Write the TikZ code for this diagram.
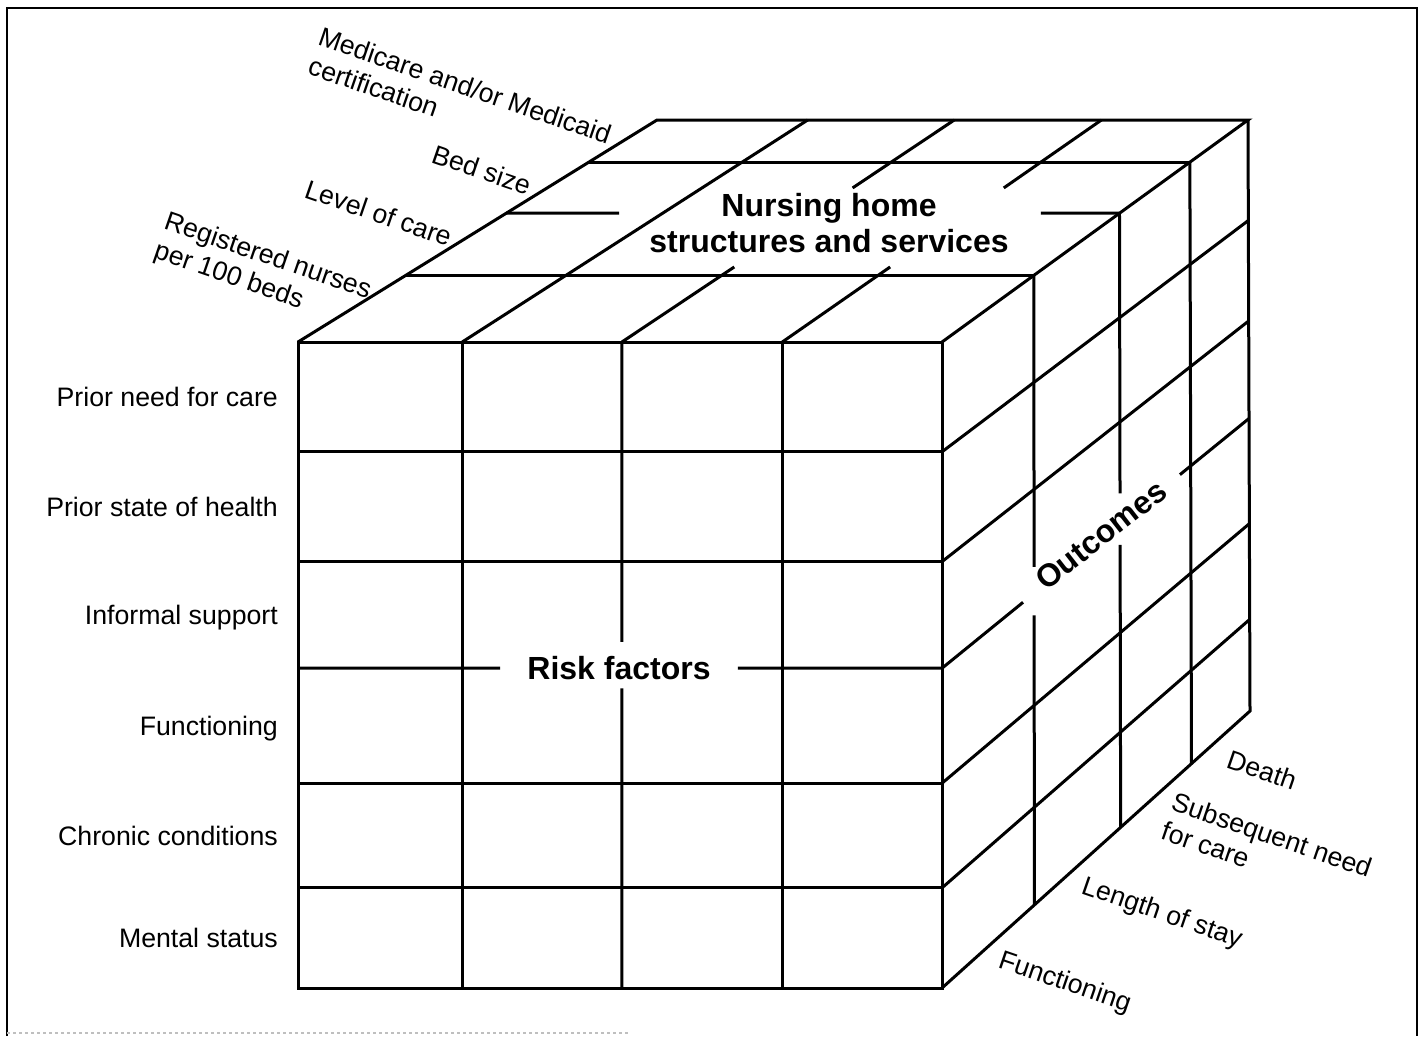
\documentclass[tikz,border=0pt]{standalone}
\usepackage{fontspec}
\setmainfont{Liberation Sans}
\usetikzlibrary{calc}
\tikzset{
  cubeline/.style={line width=3pt},
  frameline/.style={line width=2.6pt},
  rowlabel/.style={anchor=base east,inner sep=0pt,font=\fontsize{26.7}{31}\selectfont},
  slablabel/.style={rotate=-19,inner sep=0pt,align=left,font=\fontsize{26.7}{31}\selectfont},
  facelabel/.style={inner sep=0pt,align=center,font=\fontsize{32}{36}\selectfont\bfseries}
}
\begin{document}
\begin{tikzpicture}[x=1pt,y=-1pt]
  \useasboundingbox (0,0) rectangle (1424,1036);
  % frame round the figure
  \draw[frameline] (7,1036) -- (7,8) -- (1417,8) -- (1417,1036);
  \draw[frameline,gray!50,dashed] (7,1033) -- (630,1033);

  % cube corners: front face, then the back ones
  \coordinate (ftl) at (298,342);
  \coordinate (ftr) at (942,342);
  \coordinate (fbl) at (298,988);
  \coordinate (fbr) at (942,988);
  \coordinate (btl) at (657,120);
  \coordinate (btr) at (1248,120);
  \coordinate (bbr) at (1250,711);

  % front face
  \draw[cubeline] (ftl) rectangle (fbr);
  \foreach \r in {0.17,0.34,0.683,0.845}
    \draw[cubeline] ($(ftl)!\r!(fbl)$) -- ($(ftr)!\r!(fbr)$);
  \foreach \c in {0.255,0.752}
    \draw[cubeline] ($(ftl)!\c!(ftr)$) -- ($(fbl)!\c!(fbr)$);
  \coordinate (riskl) at ($(ftl)!0.505!(fbl)$);
  \coordinate (riskr) at ($(ftr)!0.505!(fbr)$);
  \coordinate (riskt) at ($(ftl)!0.503!(ftr)$);
  \coordinate (riskb) at ($(fbl)!0.503!(fbr)$);
  \draw[cubeline] (riskl) -- ($(riskl)!0.314!(riskr)$) ($(riskl)!0.683!(riskr)$) -- (riskr);
  \draw[cubeline] (riskt) -- ($(riskt)!0.464!(riskb)$) ($(riskt)!0.536!(riskb)$) -- (riskb);

  % top face
  \draw[cubeline] (ftl) -- (btl) -- (btr) -- (ftr);
  \foreach \t in {0.30,0.81}
    \draw[cubeline] ($(ftl)!\t!(btl)$) -- ($(ftr)!\t!(btr)$);
  \coordinate (nhl) at ($(ftl)!0.58!(btl)$);
  \coordinate (nhr) at ($(ftr)!0.58!(btr)$);
  \draw[cubeline] (nhl) -- ($(nhl)!0.184!(nhr)$) ($(nhl)!0.872!(nhr)$) -- (nhr);
  \draw[cubeline] ($(ftl)!0.255!(ftr)$) -- ($(btl)!0.255!(btr)$);
  \foreach \c in {0.503,0.752} {
    \coordinate (cf) at ($(ftl)!\c!(ftr)$);
    \coordinate (cb) at ($(btl)!\c!(btr)$);
    \draw[cubeline] (cf) -- ($(cf)!0.338!(cb)$) ($(cf)!0.694!(cb)$) -- (cb);
  }

  % right face
  \draw[cubeline] (btr) -- (bbr) -- (fbr);
  \draw[cubeline] ($(ftr)!0.81!(btr)$) -- ($(fbr)!0.81!(bbr)$);
  \foreach \t/\ga/\gb in {0.30/0.463/0.540,0.58/0.456/0.540} {
    \coordinate (lt) at ($(ftr)!\t!(btr)$);
    \coordinate (lb) at ($(fbr)!\t!(bbr)$);
    \draw[cubeline] (lt) -- ($(lt)!\ga!(lb)$) ($(lt)!\gb!(lb)$) -- (lb);
  }
  \foreach \r in {0.17,0.34,0.683,0.845}
    \draw[cubeline] ($(ftr)!\r!(fbr)$) -- ($(btr)!\r!(bbr)$);
  \coordinate (outf) at ($(ftr)!0.505!(fbr)$);
  \coordinate (outb) at ($(btr)!0.505!(bbr)$);
  \draw[cubeline] (outf) -- ($(outf)!0.264!(outb)$) ($(outf)!0.775!(outb)$) -- (outb);

  % row names left of the front face
  \foreach \m/\txt [count=\i] in {0.085/Prior need for care,0.255/Prior state of health,0.4225/Informal support,0.594/Functioning,0.764/Chronic conditions,0.9225/Mental status}
    \node[rowlabel,xshift=-20pt,yshift=-9.6pt] (risk\i) at ($(ftl)!\m!(fbl)$) {\txt};

  % slab names along the depth
  \node[slablabel,anchor=north west] (medicare) at (323,26) {Medicare and/or Medicaid\\certification};
  \node[slablabel,anchor=base west] (bedsize) at (430,162) {Bed size};
  \node[slablabel,anchor=base west] (carelevel) at (303,197) {Level of care};
  \node[slablabel,anchor=north west] (nurses) at (169,210) {Registered nurses\\per 100 beds};
  \node[slablabel,anchor=base west] (death) at (1225,767) {Death};
  \node[slablabel,anchor=north west] (needcare) at (1176,791) {Subsequent need\\for care};
  \node[slablabel,anchor=base west] (stay) at (1080,893) {Length of stay};
  \node[slablabel,anchor=base west] (functioning) at (997,967) {Functioning};

  % face titles
  \node[facelabel] (nursinghome) at (829,223) {Nursing home\\structures and services};
  \node[facelabel] (riskfactors) at (619,668) {Risk factors};
  \node[facelabel,rotate=38] (outcomes) at (1101,535) {Outcomes};
\end{tikzpicture}
\end{document}
